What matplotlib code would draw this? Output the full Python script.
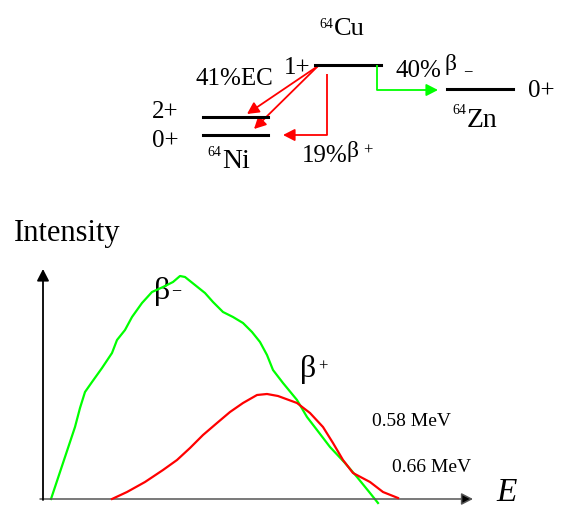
import matplotlib
matplotlib.use("Agg")
import matplotlib.pyplot as plt
from matplotlib.patches import FancyArrowPatch

# Beta spectra of Cu-64 (energy in arbitrary channels, relative intensity)
beta_minus_E = [8, 32, 37, 42, 49, 59, 69, 74, 82, 89, 99, 109, 120, 130, 137, 142,
                152, 162, 170, 180, 190, 200, 209, 217, 224, 230, 240, 254, 264, 274,
                287, 302, 314, 327, 335]
beta_minus_I = [0, 72, 91, 107, 117, 131, 146, 159, 169, 182, 196, 207, 212, 217, 223, 222,
                214, 206, 197, 187, 182, 176, 167, 157, 144, 129, 116, 99, 82, 69,
                52, 36, 22, 6, -4]
beta_plus_E = [69, 84, 102, 120, 134, 147, 160, 174, 187, 200, 214, 224, 235, 254, 267,
               280, 290, 300, 310, 327, 340, 355]
beta_plus_I = [0, 7, 17, 29, 39, 51, 64, 76, 87, 96, 104, 105, 103, 96, 86,
               72, 56, 39, 26, 17, 7, 1]

endpoint_labels = ["0.58 MeV", "0.66 MeV"]

SERIF = "Liberation Serif"
GREEN = "#00ff00"
RED = "#ff0000"

W, H = 565, 508
fig = plt.figure(figsize=(W / 100, H / 100), dpi=100)
fig.patch.set_facecolor("white")

# Canvas in pixel units for the decay scheme
bg = fig.add_axes([0, 0, 1, 1])
bg.set_xlim(0, W)
bg.set_ylim(H, 0)
bg.axis("off")


def txt(x, y, s, size, ha="center", va="center", **kw):
    bg.text(x, y, s, fontsize=size, family=SERIF, color="black", ha=ha, va=va, **kw)


def arrow(points, color, lw=1.3):
    xs = [p[0] for p in points]
    ys = [p[1] for p in points]
    if len(points) > 2:
        bg.plot(xs[:-1], ys[:-1], color=color, lw=lw, solid_capstyle="butt")
    a = FancyArrowPatch(points[-2], points[-1], arrowstyle="-|>,head_length=7,head_width=3.6",
                        mutation_scale=1, color=color, lw=lw, shrinkA=0, shrinkB=0)
    bg.add_patch(a)


# Energy levels
bg.plot([315, 381], [65, 65], color="black", lw=2.2)       # Cu 1+
bg.plot([447, 513], [89, 89], color="black", lw=2.2)       # Zn 0+
bg.plot([203, 268], [117, 117], color="black", lw=2.2)     # Ni 2+
bg.plot([203, 268], [135, 135], color="black", lw=2.2)     # Ni 0+

# Nuclide names
txt(333, 24, "64", 10, ha="right")
txt(334, 35, "Cu", 19, ha="left", va="baseline")
txt(466, 111, "64", 10, ha="right")
txt(467, 127, "Zn", 20, ha="left", va="baseline")
txt(221, 152, "64", 10, ha="right")
txt(222, 168, "Ni", 20, ha="left", va="baseline")

# Spin-parity labels
txt(297, 68, "1+", 18)
txt(541, 91, "0+", 18)
txt(165, 112, "2+", 18)
txt(165, 141, "0+", 18)

# Branch labels
txt(234, 79, "41%EC", 18)
txt(395, 77, "40%", 18, ha="left", va="baseline")
txt(444, 70, "β", 17, ha="left", va="baseline")
txt(463, 72, "−", 12, ha="left")
txt(302, 162, "19%", 18, ha="left", va="baseline")
txt(347, 157, "β", 17, ha="left", va="baseline")
txt(363, 151, "+", 12, ha="left")

# Transitions
arrow([(318, 66), (247, 114)], RED)
arrow([(318, 66), (254, 129)], RED)
arrow([(327, 74), (327, 135), (283, 135)], RED)
arrow([(377, 65), (377, 90), (438, 90)], GREEN)

# Spectrum panel: pixel x 43..473, y 269..499
x0, y0, x1, y1 = 43, 499, 473, 269
ax = fig.add_axes([x0 / W, 1 - y0 / H, (x1 - x0) / W, (y0 - y1) / H])
ax.set_xlim(0, x1 - x0)
ax.set_ylim(0, y0 - y1)
ax.axis("off")

ax.plot(beta_minus_E, beta_minus_I, color=GREEN, lw=1.6, clip_on=False, zorder=3)
ax.plot(beta_plus_E, beta_plus_I, color=RED, lw=1.6, clip_on=False, zorder=4)

# Axes arrows
ax.annotate("", xy=(x1 - x0, 0), xytext=(-3, 0), annotation_clip=False,
            arrowprops=dict(arrowstyle="-|>,head_length=7,head_width=3.6", mutation_scale=1,
                            lw=1.1, shrinkA=0, shrinkB=0, fc="black", ec="#555555"))
ax.annotate("", xy=(0, y0 - y1), xytext=(0, -1), annotation_clip=False,
            arrowprops=dict(arrowstyle="-|>,head_length=7,head_width=3.6", mutation_scale=1,
                            color="black", lw=1.3, shrinkA=0, shrinkB=0))

# Spectrum labels (pixel canvas)
txt(14, 234, "Intensity", 22, ha="left")
txt(154, 292, "β", 23, ha="left")
txt(171, 291, "−", 13, ha="left")
txt(300, 370, "β", 23, ha="left")
txt(318, 367, "+", 12, ha="left")
txt(372, 421, endpoint_labels[0], 14, ha="left")
txt(392, 468, endpoint_labels[1], 14, ha="left")
bg.text(507, 493, "E", fontsize=24, family=SERIF, style="italic", ha="center", va="center")

fig.savefig("out.png", dpi=100, facecolor="white")
